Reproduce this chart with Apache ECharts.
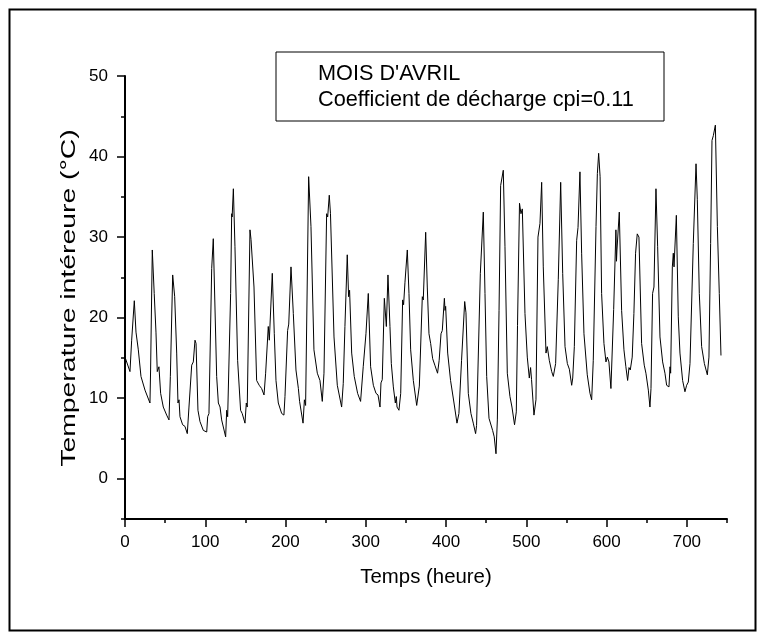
<!DOCTYPE html>
<html>
<head>
<meta charset="utf-8">
<script src="https://cdn.jsdelivr.net/npm/echarts@6/dist/echarts.min.js"></script>
<style>
html,body{margin:0;padding:0;background:#fff;}
#chart{width:762px;height:637px;}
</style>
</head>
<body>
<div id="chart"></div>
<script>
// Hours (x) and indoor temperature (y)
var hours = [0,6.2,8.3,11.6,13.7,16.6,19.9,24.9,31.1,31.9,34.0,36.4,38.6,40.2,42.3,44.4,47.7,51.9,54.8,56.5,59.4,61.9,64.4,66.0,67.3,68.5,71.8,74.7,77.6,79.7,83.1,85.1,87.2,88.5,90.9,93.4,97.6,101.8,103.0,104.6,108.0,110.0,114.2,116.3,118.4,120.4,125.4,126.7,127.9,131.6,132.9,133.5,135.0,137.0,140.3,144.0,146.0,149.5,151.1,152.3,155.7,157.0,158.6,160.7,164.0,167.2,170.2,173.2,175.2,178.5,179.8,183.5,186.0,188.1,191.0,195.2,198.0,199.3,202.6,204.0,206.8,209.7,213.0,216.0,217.5,218.7,221.8,223.5,225.0,228.8,231.7,235.4,239.6,242.9,245.8,247.9,251.2,252.5,254.5,256.0,260.4,264.5,269.9,271.9,274.0,276.9,278.6,279.8,282.4,285.6,289.8,293.5,296.8,300.2,303.1,306.0,309.4,312.7,315.2,317.7,318.9,320.5,323.1,324.3,325.6,327.6,330.1,331.8,334.3,336.8,338.0,338.9,341.3,343.5,345.9,347.1,348.8,351.7,353.8,355.9,359.2,363.4,366.7,370.4,371.6,374.6,376.6,378.7,380.8,383.3,386.0,389.4,391.4,393.7,395.3,397.9,398.7,399.5,402.0,405.6,409.9,413.6,416.0,419.3,423.2,424.8,427.7,431.0,433.9,436.8,438.0,439.7,442.7,446.4,448.5,450.6,453.5,455.2,458.0,460.0,462.2,463.9,466.0,468.0,469.3,471.3,473.4,476.3,479.6,482.1,485.3,487.5,489.0,491.5,493.3,495.0,498.3,501.2,503.7,505.3,506.5,509.5,512.0,514.5,517.0,519.1,521.1,524.5,526.1,528.6,531.6,533.6,536.5,539.8,542.8,545.3,548.2,551.1,553.6,556.5,557.8,559.8,562.7,564.4,566.8,568.9,571.8,575.9,579.3,581.4,583.4,586.8,588.5,590.1,591.9,593.8,596.7,599.2,600.9,602.9,605.4,608.8,611.6,612.3,612.9,615.8,618.7,621.6,624.0,626.2,627.9,629.5,631.9,634.0,636.1,638.2,640.3,643.6,646.9,649.0,652.0,654.0,655.3,657.3,659.0,661.5,663.6,666.5,669.8,672.7,674.8,677.7,679.0,679.8,681.9,683.1,684.0,686.9,689.3,691.4,694.7,697.6,699.7,701.8,703.9,708.0,711.4,713.0,715.5,718.4,721.8,725.5,727.5,729.6,731.3,733.0,735.5,738.0,740.4,742.5];
var temps = [15.1,13.3,17.2,22.1,18.2,16.0,12.7,11.0,9.4,13.5,28.4,23.0,18.2,13.3,13.9,10.6,8.9,7.9,7.3,12.7,25.3,22.6,15.6,9.4,9.8,7.7,6.7,6.5,5.6,8.9,14.1,14.5,17.2,16.8,8.5,7.1,6.0,5.8,7.7,8.1,26.1,29.8,12.7,9.4,8.9,7.3,5.2,8.5,7.7,23.0,32.9,32.5,36.0,28.8,14.7,8.5,8.1,6.9,9.4,8.9,30.9,29.7,29.6,23.8,12.2,11.6,11.2,10.4,13.1,18.9,17.2,25.5,18.0,12.2,9.4,8.1,7.9,10.2,18.4,19.2,26.3,20.5,13.5,11.2,9.6,9.8,6.9,9.8,9.1,37.5,31.3,16.0,13.1,12.2,9.6,13.1,32.9,32.5,35.2,32.9,17.6,11.6,8.9,11.8,18.9,27.8,22.6,23.4,15.6,12.7,10.6,9.6,13.9,18.0,23.0,13.9,11.6,10.6,10.4,8.9,11.9,12.3,22.4,22.2,18.9,25.3,18.9,14.3,11.4,9.4,10.2,8.9,8.5,10.6,22.2,21.6,24.4,28.4,23.0,16.0,12.2,9.1,11.5,22.6,22.2,30.6,23.8,18.0,16.8,14.9,14.1,13.1,14.7,18.0,18.4,22.4,20.9,21.4,15.6,12.2,9.4,6.9,8.1,14.7,22.0,20.6,10.6,8.1,6.9,5.6,6.6,6.5,25.5,33.1,23.0,12.7,7.5,7.3,6.0,5.2,3.1,7.3,20.9,36.4,36.6,38.3,28.8,13.1,10.2,8.9,6.7,8.3,19.0,34.2,32.9,33.5,20.5,15.1,12.5,13.8,12.3,7.9,9.8,30.0,31.7,36.8,26.3,15.6,16.4,14.7,13.3,12.7,14.3,24.7,36.8,25.5,16.4,14.3,13.6,11.6,12.5,16.4,29.6,31.2,38.1,28.0,18.0,12.9,10.6,9.8,14.7,31.3,37.9,40.4,37.5,23.0,16.8,14.5,15.1,14.5,11.2,21.0,30.9,27.0,28.4,33.1,20.9,16.0,13.9,12.2,13.8,13.5,15.1,20.5,28.0,30.4,30.0,16.8,14.1,13.1,11.0,8.9,11.2,23.0,23.8,36.0,28.8,17.6,14.5,13.1,11.6,11.4,13.9,13.1,26.3,28.0,26.3,32.7,20.1,15.6,12.2,10.8,11.6,12.0,14.3,29.2,39.1,34.7,23.0,16.4,14.3,12.9,15.1,29.2,42.0,42.6,43.9,31.3,23.0,15.3];

var xTicks = [0,100,200,300,400,500,600,700];
var xMinorTicks = [50,150,250,350,450,550,650,750];
var yTicks = [0,10,20,30,40,50];
var yMinorTicks = [-5,5,15,25,35,45];

var legendLines = ["MOIS D'AVRIL", "Coefficient de décharge cpi=0.11"];
var xName = "Temps (heure)";
var yName = "Temperature intéreure (°C)";

var seriesData = hours.map(function(h, i){ return [h, temps[i]]; });

var FONT = "'Liberation Sans', Arial, sans-serif";
var chart = echarts.init(document.getElementById('chart'), null, {renderer:'canvas'});

var tickStyle = {color:'#000', width:1.5};
var labelStyle = {color:'#000', fontSize:17, fontFamily:FONT, margin:15};

chart.setOption({
  animation:false,
  backgroundColor:'#fff',
  grid:{left:125, top:76, width:602, height:443, containLabel:false},
  xAxis:[
    {
      type:'value', min:0, max:750, position:'bottom',
      splitLine:{show:false},
      axisLine:{show:true, onZero:false, lineStyle:{color:'#000', width:2}},
      axisTick:{show:true, inside:false, length:8, lineStyle:tickStyle, customValues:xTicks},
      axisLabel:Object.assign({}, labelStyle, {customValues:xTicks}),
      name:xName, nameLocation:'middle', nameGap:48,
      nameTextStyle:{color:'#000', fontSize:20.4, fontFamily:FONT}
    },
    {
      type:'value', min:0, max:750, position:'bottom',
      splitLine:{show:false},
      axisLine:{show:false, onZero:false},
      axisTick:{show:true, inside:false, length:4, lineStyle:tickStyle, customValues:xMinorTicks},
      axisLabel:{show:false}
    }
  ],
  yAxis:[
    {
      type:'value', min:-5, max:50, position:'left',
      splitLine:{show:false},
      axisLine:{show:true, onZero:false, lineStyle:{color:'#000', width:2}},
      axisTick:{show:true, inside:false, length:8, lineStyle:tickStyle, customValues:yTicks},
      axisLabel:Object.assign({}, labelStyle, {margin:17, customValues:yTicks})
    },
    {
      type:'value', min:-5, max:50, position:'left', offset:0,
      splitLine:{show:false},
      axisLine:{show:false, onZero:false},
      axisTick:{show:true, inside:false, length:4, lineStyle:tickStyle, customValues:yMinorTicks},
      axisLabel:{show:false}
    }
  ],
  series:[{
    type:'line',
    data:seriesData,
    xAxisIndex:0, yAxisIndex:0,
    showSymbol:false, symbol:'none',
    lineStyle:{color:'#000', width:1},
    clip:true
  }],
  graphic:[
    {type:'rect', left:7, top:7, shape:{width:746, height:621}, style:{fill:'none', stroke:'#000', lineWidth:2}, silent:true},
    {type:'rect', shape:{x:276, y:52, width:388, height:69}, style:{fill:'#fff', stroke:'#000', lineWidth:1}, z:10},
    {type:'text', x:318, y:62.6, style:{text:legendLines[0], font:"21.7px " + FONT, fill:'#000', verticalAlign:'top', align:'left'}, z:11},
    {type:'text', x:318, y:89, style:{text:legendLines[1], font:"21.7px " + FONT, fill:'#000', verticalAlign:'top', align:'left'}, z:11},
    {type:'text', x:69, y:298, rotation:Math.PI/2, scaleX:1.35, scaleY:1,
     style:{text:yName, font:"21px " + FONT, fill:'#000', align:'center', verticalAlign:'middle'}, z:11}
  ]
});
</script>
</body>
</html>
